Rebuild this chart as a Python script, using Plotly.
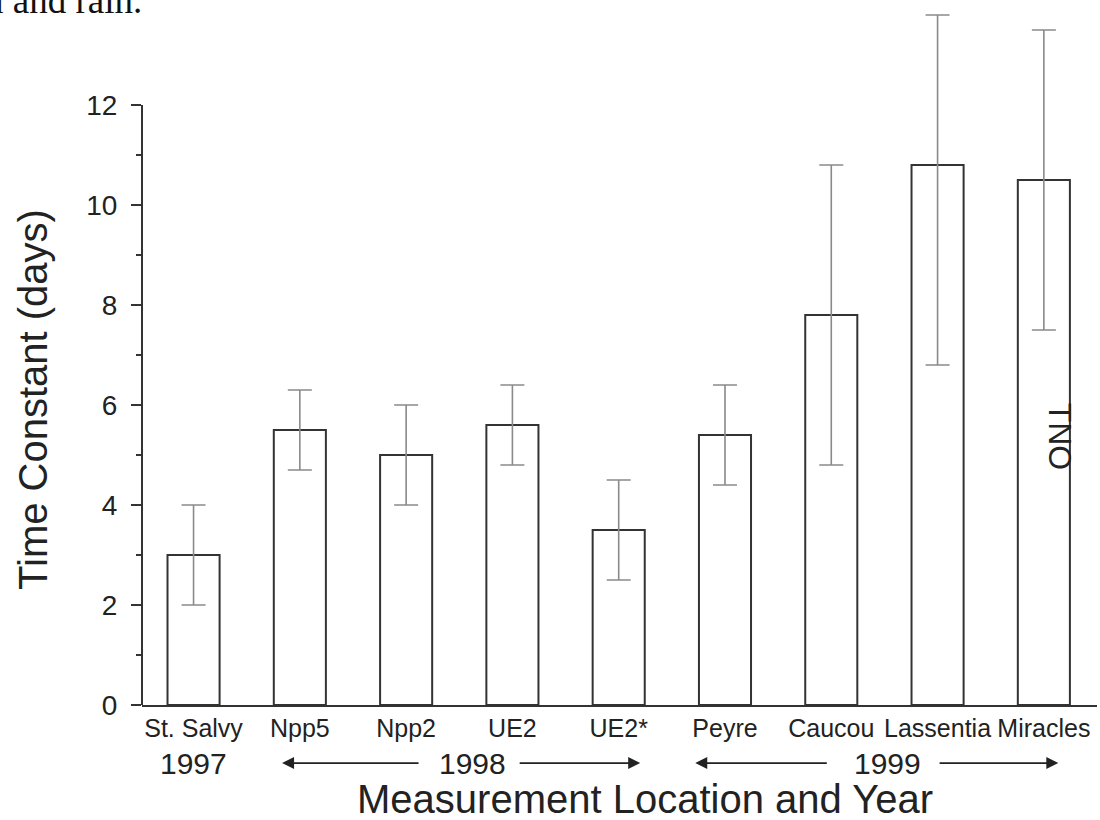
import plotly.graph_objects as go

# ---- data ----
locations = ["St. Salvy", "Npp5", "Npp2", "UE2", "UE2*", "Peyre", "Caucou", "Lassentia", "Miracles"]
time_constant = [3.0, 5.5, 5.0, 5.6, 3.5, 5.4, 7.8, 10.8, 10.5]
error_plus = [1.0, 0.8, 1.0, 0.8, 1.0, 1.0, 3.0, 3.0, 3.0]
error_minus = [1.0, 0.8, 1.0, 0.8, 1.0, 1.0, 3.0, 4.0, 3.0]
y_ticks = [0, 2, 4, 6, 8, 10, 12]
y_minor_ticks = [1, 3, 5, 7, 9, 11]
years = ["1997", "1998", "1999"]

FONT = "Liberation Sans, Arial, Helvetica, sans-serif"
TXT = "#222222"
X_RANGE = [-0.485, 8.5]


def xpaper(xc):
    """category coordinate -> paper fraction"""
    return (xc - X_RANGE[0]) / (X_RANGE[1] - X_RANGE[0])


fig = go.Figure()
fig.add_trace(go.Bar(
    x=list(range(len(locations))),
    y=time_constant,
    width=0.49,
    marker=dict(color="white", line=dict(color="#333333", width=2)),
    error_y=dict(type="data", symmetric=False, array=error_plus, arrayminus=error_minus,
                 visible=True, color="#8a8a8a", thickness=1.6, width=12),
    showlegend=False,
))

fig.update_layout(
    width=1100, height=820,
    margin=dict(l=142, r=3, t=5, b=115),
    paper_bgcolor="white", plot_bgcolor="white",
    font=dict(family=FONT, color=TXT),
    xaxis=dict(
        range=X_RANGE,
        tickmode="array", tickvals=list(range(len(locations))), ticktext=locations,
        tickangle=0,
        showgrid=False, zeroline=False,
        showline=True, linecolor="#333333", linewidth=2,
        ticks="", tickfont=dict(size=25, color=TXT, family=FONT),
        ticklabelstandoff=0,
    ),
    yaxis=dict(
        range=[0, 14], showgrid=False, zeroline=False, showline=False,
        tickmode="array", tickvals=y_ticks,
        ticks="outside", ticklen=10, tickwidth=2, tickcolor="#333333",
        tickfont=dict(size=28, color=TXT, family=FONT),
        ticklabelstandoff=8,
        minor=dict(tickvals=y_minor_ticks, ticks="outside", ticklen=5,
                   tickwidth=2, tickcolor="#333333"),
    ),
)

# y axis line only up to 12
fig.add_shape(type="line", xref="paper", yref="y", x0=0, x1=0, y0=0, y1=max(y_ticks),
              line=dict(color="#333333", width=2))

# year labels and arrows (below the axis, paper coordinates)
year_y = -0.083
year_x = [0, 2.62, 6.527]
for yr, xx in zip(years, year_x):
    fig.add_annotation(x=xpaper(xx), y=year_y, xref="paper", yref="paper", text=yr,
                       showarrow=False, xanchor="center", yanchor="middle",
                       font=dict(size=30, color=TXT, family=FONT))

px_per_cat = 955 / (X_RANGE[1] - X_RANGE[0])
arrows = [  # (head, tail) in category coordinates
    (0.833, 2.131), (4.202, 3.054),
    (4.72, 5.972), (8.136, 7.005),
]
for head, tail in arrows:
    fig.add_annotation(x=xpaper(head), y=year_y, xref="paper", yref="paper",
                       ax=(tail - head) * px_per_cat, ay=0, axref="pixel", ayref="pixel",
                       text="", showarrow=True, standoff=0, startstandoff=0,
                       arrowhead=2, arrowsize=1.5, arrowwidth=1.6, arrowcolor="#222222")

# axis titles
fig.add_annotation(x=0.527, y=-0.134, xref="paper", yref="paper",
                   text="Measurement Location and Year", showarrow=False,
                   xanchor="center", yanchor="middle",
                   font=dict(size=40, color=TXT, family=FONT))
fig.add_annotation(x=-0.114, y=0.436, xref="paper", yref="paper",
                   text="Time Constant (days)", showarrow=False, textangle=-90,
                   xanchor="center", yanchor="middle",
                   font=dict(size=40, color=TXT, family=FONT))

# TNO label
fig.add_annotation(x=8.155, y=5.36, xref="x", yref="y", text="TNO", showarrow=False,
                   textangle=90, font=dict(size=32, color=TXT, family=FONT))

# cropped document text at top
fig.add_annotation(x=0.0025, y=1.006, xref="paper", yref="paper", text="n and rain.",
                   showarrow=False, xanchor="right", yanchor="middle",
                   font=dict(size=37, color="#111111",
                             family="Liberation Serif, Times New Roman, serif"))

fig.write_html("out.html")
